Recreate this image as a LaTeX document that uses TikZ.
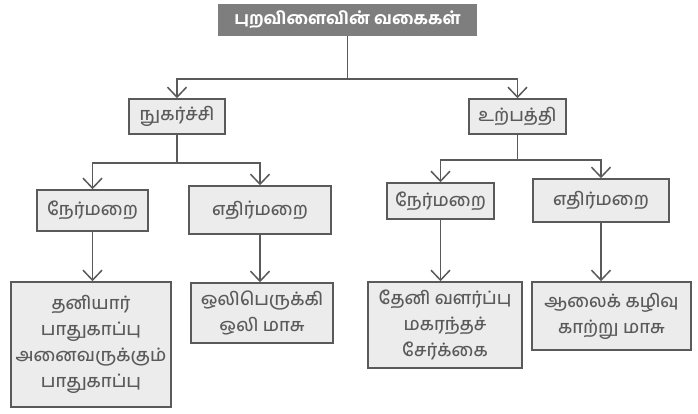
\documentclass[tikz,border=0pt]{standalone}
\usepackage{fontspec}
\newfontfamily\tamil[Script=Tamil,UprightFont=* Medium,BoldFont=* Bold]{Hind Madurai}
\usetikzlibrary{arrows.meta}
\definecolor{ln}{HTML}{5A5A5A}
\definecolor{bx}{HTML}{ECECEC}
\definecolor{tx}{HTML}{5A5A5A}
\definecolor{hd}{HTML}{7E7E7E}
\begin{document}
\begin{tikzpicture}[x=1pt,y=-1pt,
  box/.style={draw=ln,line width=1.5pt,fill=bx,text=tx,inner sep=0pt,align=center,
    font=\tamil\fontsize{18}{26}\selectfont},
  head/.style={fill=hd,text=white,inner sep=0pt,minimum width=259pt,minimum height=32pt,
    font=\tamil\bfseries\fontsize{17}{20}\selectfont},
  conn/.style={draw=ln,line width=1.5pt},
  arr/.style={conn,-{Straight Barb[length=10pt,width=19pt,line width=1.5pt]}}]
\useasboundingbox (0,0) rectangle (698,414);
\node[head] (top) at (347.5,20) {புறவிளைவின் வகைகள்};
\node[box,minimum width=96pt,minimum height=35pt] (n1) at (177,116.5) {நுகர்ச்சி};
\node[box,minimum width=97pt,minimum height=35pt] (u1) at (517.5,116.5) {உற்பத்தி};
\node[box,minimum width=111pt,minimum height=41pt] (l3a) at (92.5,210.5) {நேர்மறை};
\node[box,minimum width=142pt,minimum height=48pt] (l3b) at (260,210) {எதிர்மறை};
\node[box,minimum width=107pt,minimum height=36pt] (r3a) at (440.5,201) {நேர்மறை};
\node[box,minimum width=136pt,minimum height=43pt] (r3b) at (601,200.5) {எதிர்மறை};
\node[box,minimum width=160pt,minimum height=125pt] (l4a) at (91,344.5) {தனியார்\\பாதுகாப்பு\\அனைவருக்கும்\\பாதுகாப்பு};
\node[box,minimum width=142pt,minimum height=60pt] (l4b) at (262,313) {ஒலிபெருக்கி\\ஒலி மாசு};
\node[box,minimum width=154pt,minimum height=86pt] (r4a) at (445,325) {தேனி வளர்ப்பு\\மகரந்தச்\\சேர்க்கை};
\node[box,minimum width=159pt,minimum height=68pt] (r4b) at (611.5,316) {ஆலைக் கழிவு\\காற்று மாசு};
\coordinate (j0) at (top.south |- 0,79);
\coordinate (j1) at (n1.south |- 0,163);
\coordinate (j2) at (u1.south |- 0,160);
\draw[conn] (top.south) -- (j0);
\draw[arr] (j0) -| (n1.north);
\draw[arr] (j0) -| (u1.north);
\draw[conn] (n1.south) -- (j1);
\draw[arr] (j1) -| (l3a.north);
\draw[arr] (j1) -| (l3b.north);
\draw[conn] (u1.south) -- (j2);
\draw[arr] (j2) -| (r3a.north);
\draw[arr] (j2) -| (r3b.north);
\draw[arr] (l3a.south) -- (l3a.south |- l4a.north);
\draw[arr] (l3b.south) -- (l3b.south |- l4b.north);
\draw[arr] (r3a.south) -- (r3a.south |- r4a.north);
\draw[arr] (r3b.south) -- (r3b.south |- r4b.north);
\end{tikzpicture}
\end{document}
